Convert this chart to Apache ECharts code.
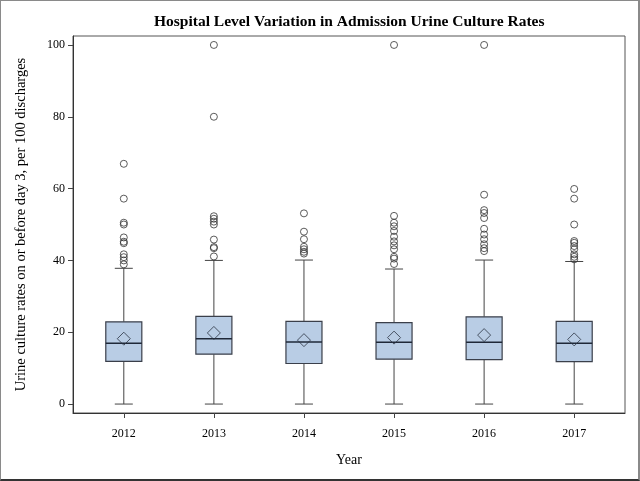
<!DOCTYPE html>
<html>
<head>
<meta charset="utf-8">
<script src="https://cdn.jsdelivr.net/npm/echarts@6/dist/echarts.min.js"></script>
<style>
html,body{margin:0;padding:0;background:#fff;}
#c{width:640px;height:481px;box-sizing:border-box;border:1px solid #8a8a8a;border-bottom:2px solid #333;border-right:2px solid #8a8a8a;}
</style>
</head>
<body>
<div id="c"></div>
<script>
var years = ['2012', '2013', '2014', '2015', '2016', '2017'];
var whiskerLow = [0, 0, 0, 0, 0, 0];
var q1 = [11.9, 13.9, 11.3, 12.5, 12.4, 11.8];
var median = [16.9, 18.2, 17.3, 17.2, 17.2, 16.9];
var q3 = [22.9, 24.4, 23.0, 22.7, 24.3, 23.0];
var whiskerHigh = [37.8, 40.0, 40.1, 37.6, 40.1, 39.7];
var means = [18.2, 19.8, 17.8, 18.5, 19.2, 18.0];
var outliers2012 = [66.9, 57.2, 50.5, 50.0, 46.4, 45.2, 44.8, 41.7, 40.9, 40.0, 38.9];
var outliers2013 = [100, 80, 52.3, 51.6, 50.8, 50.0, 45.8, 43.7, 43.4, 41.1];
var outliers2014 = [53.1, 48.0, 45.9, 43.8, 43.1, 42.4, 41.9];
var outliers2015 = [100, 52.4, 50.5, 49.5, 48.2, 46.6, 45.3, 44.2, 43.1, 41.0, 40.5, 39.0];
var outliers2016 = [100, 58.3, 54.0, 53.2, 51.8, 48.8, 47.2, 45.9, 44.5, 43.4, 42.6];
var outliers2017 = [59.9, 57.2, 50.0, 45.4, 44.9, 44.0, 43.1, 41.7, 41.0, 40.3];
var yTicks = [0, 20, 40, 60, 80, 100];

var outlierLists = [outliers2012, outliers2013, outliers2014, outliers2015, outliers2016, outliers2017];
var boxData = years.map(function (y, i) {
  return [i, whiskerLow[i], q1[i], median[i], q3[i], whiskerHigh[i]];
});
var meanData = years.map(function (y, i) { return [i, means[i]]; });
var outlierData = [];
outlierLists.forEach(function (list, i) {
  list.forEach(function (v) { outlierData.push([i, v]); });
});

var font = '"Liberation Serif", "Times New Roman", serif';
var chart = echarts.init(document.getElementById('c'), null, {renderer: 'canvas'});

function renderBox(params, api) {
  var idx = api.value(0);
  var lo = api.coord([idx, api.value(1)]);
  var b1 = api.coord([idx, api.value(2)]);
  var md = api.coord([idx, api.value(3)]);
  var b3 = api.coord([idx, api.value(4)]);
  var hi = api.coord([idx, api.value(5)]);
  var unit = api.size([1, 0])[0];
  var hw = unit * 0.2;
  var cw = unit * 0.1;
  var x = lo[0];
  var lineStyle = {stroke: '#444', lineWidth: 1, fill: null};
  return {
    type: 'group',
    children: [
      {type: 'line', shape: {x1: x, y1: b1[1], x2: x, y2: lo[1]}, style: lineStyle},
      {type: 'line', shape: {x1: x, y1: b3[1], x2: x, y2: hi[1]}, style: lineStyle},
      {type: 'line', shape: {x1: x - cw, y1: lo[1], x2: x + cw, y2: lo[1]}, style: lineStyle},
      {type: 'line', shape: {x1: x - cw, y1: hi[1], x2: x + cw, y2: hi[1]}, style: lineStyle},
      {type: 'rect', shape: {x: x - hw, y: b3[1], width: hw * 2, height: b1[1] - b3[1]},
        style: {fill: '#b9cde5', stroke: '#3a3f4a', lineWidth: 1.2}},
      {type: 'line', shape: {x1: x - hw, y1: md[1], x2: x + hw, y2: md[1]},
        style: {stroke: '#1f2838', lineWidth: 1.5}}
    ]
  };
}

chart.setOption({
  animation: false,
  backgroundColor: '#fff',
  title: {
    text: 'Hospital Level Variation in Admission Urine Culture Rates',
    left: 148, top: 8,
    textStyle: {fontFamily: font, fontSize: 15.5, fontWeight: 'bold', color: '#000'}
  },
  grid: {left: 72, right: 13, top: 35, bottom: 66, show: true, borderColor: '#555', borderWidth: 1},
  xAxis: {
    type: 'value', min: -0.564, max: 5.564,
    name: 'Year', nameLocation: 'middle', nameGap: 40,
    nameTextStyle: {fontFamily: font, fontSize: 14, color: '#000'},
    axisLine: {show: true, onZero: false, lineStyle: {color: '#333'}},
    splitLine: {show: false},
    axisTick: {show: true, inside: false, length: 5, lineStyle: {color: '#444'}, customValues: [0, 1, 2, 3, 4, 5]},
    axisLabel: {
      customValues: [0, 1, 2, 3, 4, 5],
      formatter: function (v) { return years[Math.round(v)]; },
      fontFamily: font, fontSize: 12, color: '#000', margin: 15
    }
  },
  yAxis: {
    type: 'value', min: -2.49, max: 102.49,
    name: 'Urine culture rates on or before day 3, per 100 discharges',
    nameLocation: 'middle', nameGap: 44, nameRotate: 90,
    nameTextStyle: {fontFamily: font, fontSize: 14.5, color: '#000'},
    axisLine: {show: true, onZero: false, lineStyle: {color: '#333'}},
    splitLine: {show: false},
    axisTick: {show: true, inside: false, length: 5, lineStyle: {color: '#444'}, customValues: yTicks},
    axisLabel: {customValues: yTicks, fontFamily: font, fontSize: 12, color: '#000', margin: 8}
  },
  series: [
    {
      type: 'custom', name: 'box', renderItem: renderBox,
      encode: {x: 0, y: [1, 2, 3, 4, 5]}, data: boxData, z: 2
    },
    {
      type: 'scatter', name: 'mean', data: meanData, symbol: 'diamond', symbolSize: 13,
      itemStyle: {color: 'rgba(0,0,0,0)', borderColor: '#2a3342', borderWidth: 1}, z: 3
    },
    {
      type: 'scatter', name: 'outliers', data: outlierData, symbol: 'circle', symbolSize: 7,
      itemStyle: {color: 'rgba(0,0,0,0)', borderColor: '#333', borderWidth: 1}, z: 3
    }
  ]
});
</script>
</body>
</html>
